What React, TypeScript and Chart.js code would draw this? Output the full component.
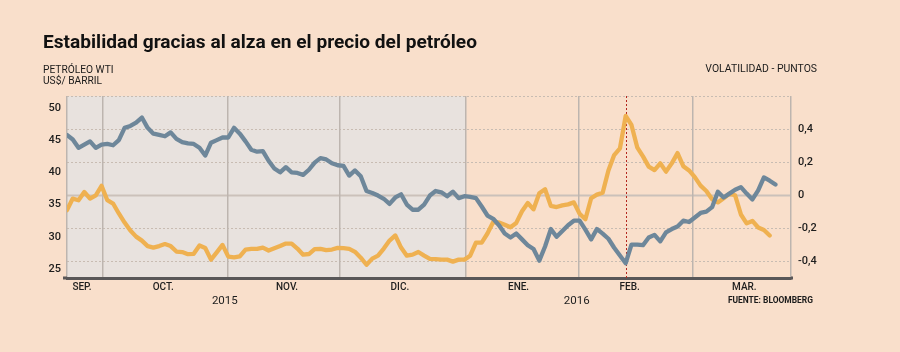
import React, { useEffect, useLayoutEffect, useRef } from 'react';
import { Chart, registerables } from 'chart.js';

Chart.register(...registerables);

// ---- DATA ----
// WTI oil price (US$/barrel), one value per trading day from late Sep 2015 to Mar 2016
const wtiPrice = [
  45.8, 45.1, 43.8, 44.3, 44.8, 43.8, 44.3, 44.4, 44.2, 45.0,
  46.9, 47.2, 47.7, 48.5, 46.9, 46.0, 45.8, 45.6, 46.2, 45.2,
  44.7, 44.5, 44.4, 43.8, 42.6, 44.6, 45.0, 45.4, 45.4, 46.9,
  46.0, 44.8, 43.5, 43.2, 43.3, 41.8, 40.6, 40.0, 40.8, 40.0,
  39.9, 39.6, 40.4, 41.5, 42.2, 42.0, 41.4, 41.1, 41.0, 39.5,
  40.3, 39.4, 37.1, 36.8, 36.4, 35.9, 35.1, 36.1, 36.6, 35.0,
  34.2, 34.2, 35.0, 36.4, 37.1, 36.9, 36.3, 37.0, 36.0, 36.3,
  36.2, 36.0, 34.7, 33.3, 32.8, 31.8, 30.5, 29.9, 30.5, 29.6,
  28.7, 28.1, 26.3, 28.5, 31.2, 30.0, 30.9, 31.8, 32.5, 32.5,
  31.1, 29.6, 31.2, 30.5, 29.7, 28.3, 27.1, 25.9, 28.8, 28.8,
  28.7, 29.9, 30.3, 29.3, 30.7, 31.2, 31.6, 32.5, 32.3, 33.0,
  33.7, 33.9, 34.6, 37.0, 36.1, 36.7, 37.3, 37.7, 36.7, 35.8,
  37.2, 39.2, 38.7, 38.1,
];

// Volatility (points), same trading days
const volatility = [
  -0.09, -0.02, -0.03, 0.02, -0.02, 0.0, 0.057, -0.03, -0.05, -0.11,
  -0.165, -0.213, -0.25, -0.274, -0.307, -0.316, -0.307, -0.295, -0.307, -0.34,
  -0.343, -0.356, -0.354, -0.304, -0.319, -0.389, -0.345, -0.30, -0.371, -0.375,
  -0.37, -0.328, -0.324, -0.324, -0.316, -0.334, -0.32, -0.307, -0.292, -0.292,
  -0.322, -0.359, -0.355, -0.325, -0.324, -0.331, -0.328, -0.318, -0.32, -0.324,
  -0.342, -0.377, -0.42, -0.383, -0.365, -0.322, -0.274, -0.243, -0.316, -0.365,
  -0.359, -0.343, -0.365, -0.385, -0.386, -0.389, -0.389, -0.401, -0.389, -0.389,
  -0.365, -0.286, -0.286, -0.231, -0.162, -0.164, -0.178, -0.193, -0.167, -0.097,
  -0.047, -0.085, 0.012, 0.036, -0.064, -0.071, -0.061, -0.055, -0.043, -0.112,
  -0.145, -0.018, 0.004, 0.015, 0.15, 0.243, 0.283, 0.48, 0.425, 0.29,
  0.235, 0.173, 0.152, 0.193, 0.143, 0.193, 0.255, 0.176, 0.15, 0.11,
  0.058, 0.026, -0.024, -0.043, -0.018, 0.009, 0.0, -0.116, -0.17, -0.155,
  -0.195, -0.21, -0.243,
];

// Month boundaries on the trading-day axis (grid lines)
const monthBoundaries = [0, 6.25, 27.95, 47.4, 69.3, 88.9, 108.7, 125.7];
const xMax = 125.7;
const monthLabels = ['SEP.', 'OCT.', 'NOV.', 'DIC.', 'ENE.', 'FEB.', 'MAR.'];
const monthLabelPos = [2.6, 16.7, 38.2, 57.8, 78.4, 97.7, 117.6];
const yearLabels = ['2015', '2016'];
const yearLabelPos = [27.4, 88.5];
const shadedRange = [0, 69.3]; // 2015
const markerIndex = 97; // 11 Feb 2016

const leftTicks = [25, 30, 35, 40, 45, 50];
const leftMin = 23.61;
const leftMax = 51.84;
const rightTicks = [-0.4, -0.2, 0, 0.2, 0.4, 0.6];
const rightMin = -0.5;
const rightMax = 0.6;

const BLUE = '#6e879a';
const ORANGE = '#efb151';
const BG = '#f9dfcb';
const SHADE = '#e8e2de';

type LabelProps = {
  text: string;
  x: number;
  baseline: number;
  size: number;
  width: number;
  weight?: number;
  align?: 'left' | 'right';
  color?: string;
};

function Label({ text, x, baseline, size, width, weight = 400, align = 'left', color = '#1a1a1a' }: LabelProps) {
  const ref = useRef<HTMLSpanElement>(null);
  useLayoutEffect(() => {
    const el = ref.current;
    if (!el) return;
    el.style.transform = 'none';
    const w = el.getBoundingClientRect().width;
    if (w > 0) el.style.transform = `scaleX(${width / w})`;
  }, [text, width]);
  const top = baseline - 0.8415 * size;
  const style: React.CSSProperties = {
    position: 'absolute',
    top,
    whiteSpace: 'nowrap',
    fontFamily: 'Roboto, sans-serif',
    fontSize: size,
    fontWeight: weight,
    lineHeight: `${size}px`,
    color,
    transformOrigin: align === 'left' ? 'left top' : 'right top',
  };
  if (align === 'left') style.left = x;
  else style.right = 900 - x;
  return (
    <span ref={ref} style={style}>
      {text}
    </span>
  );
}

export default function App() {
  const canvasRef = useRef<HTMLCanvasElement>(null);

  useEffect(() => {
    document.body.style.margin = '0';
    const canvas = canvasRef.current;
    if (!canvas) return;

    const decor = {
      id: 'decor',
      beforeDraw(chart: any) {
        const { ctx, chartArea: a, scales } = chart;
        const x = scales.x;
        const y1 = scales.y1;
        ctx.save();
        const sx0 = x.getPixelForValue(shadedRange[0]);
        const sx1 = x.getPixelForValue(shadedRange[1]);
        ctx.fillStyle = SHADE;
        ctx.fillRect(sx0, a.top, sx1 - sx0, a.bottom - a.top);
        rightTicks.forEach((v) => {
          const py = Math.round(y1.getPixelForValue(v)) + 0.5;
          ctx.beginPath();
          if (v === 0) {
            ctx.setLineDash([]);
            ctx.lineWidth = 2;
            ctx.strokeStyle = '#cbc1ba';
          } else {
            ctx.setLineDash([2, 2]);
            ctx.lineWidth = 1;
            ctx.strokeStyle = '#c8bcb2';
          }
          ctx.moveTo(a.left, py);
          ctx.lineTo(a.right, py);
          ctx.stroke();
        });
        ctx.restore();
      },
      beforeDatasetsDraw(chart: any) {
        const { ctx, chartArea: a, scales } = chart;
        const px = Math.round(scales.x.getPixelForValue(markerIndex)) + 0.5;
        ctx.save();
        ctx.setLineDash([2, 2]);
        ctx.lineWidth = 1;
        ctx.strokeStyle = '#b3261e';
        ctx.beginPath();
        ctx.moveTo(px, a.top);
        ctx.lineTo(px, a.bottom);
        ctx.stroke();
        ctx.restore();
      },
      afterDraw(chart: any) {
        const { ctx, chartArea: a, scales } = chart;
        const x = scales.x;
        ctx.save();
        // extend the baseline slightly beyond the plot, as in the original
        ctx.fillStyle = '#595758';
        ctx.fillRect(a.left - 4, a.bottom - 1.5, 4, 3);
        ctx.fillRect(a.right, a.bottom - 1.5, 2, 3);
        ctx.fillStyle = '#1e1e1e';
        ctx.textAlign = 'center';
        ctx.textBaseline = 'alphabetic';
        ctx.font = '500 10px Roboto, sans-serif';
        monthLabels.forEach((m, i) => {
          ctx.fillText(m, x.getPixelForValue(monthLabelPos[i]), 290);
        });
        ctx.font = '400 11.5px Roboto, sans-serif';
        yearLabels.forEach((yl, i) => {
          ctx.fillText(yl, x.getPixelForValue(yearLabelPos[i]), 304);
        });
        ctx.restore();
      },
    };

    const fmtRight = (v: number) => {
      if (v > 0.55) return '';
      const r = Math.round(v * 10) / 10;
      return String(r).replace('.', ',');
    };

    const chart = new Chart(canvas, {
      type: 'line',
      data: {
        datasets: [
          {
            label: 'Petróleo WTI',
            data: wtiPrice.map((v, i) => ({ x: i, y: v })),
            yAxisID: 'y',
            borderColor: BLUE,
            borderWidth: 4.3,
            pointRadius: 0,
            tension: 0,
            borderJoinStyle: 'round',
            borderCapStyle: 'round',
            fill: false,
          },
          {
            label: 'Volatilidad',
            data: volatility.map((v, i) => ({ x: i, y: v })),
            yAxisID: 'y1',
            borderColor: ORANGE,
            borderWidth: 4.3,
            pointRadius: 0,
            tension: 0,
            borderJoinStyle: 'round',
            borderCapStyle: 'round',
            fill: false,
          },
        ],
      },
      options: {
        responsive: false,
        animation: false,
        devicePixelRatio: 1,
        layout: { padding: { top: 96, left: 0, right: 0, bottom: 0 } },
        plugins: {
          legend: { display: false },
          tooltip: { enabled: false },
          title: { display: false },
        },
        scales: {
          x: {
            type: 'linear',
            min: 0,
            max: xMax,
            afterBuildTicks: (s: any) => {
              s.ticks = monthBoundaries.map((v) => ({ value: v }));
            },
            afterFit: (s: any) => {
              s.height = 74;
            },
            ticks: { display: false },
            grid: { color: '#bdb5af', lineWidth: 1.5, drawTicks: false },
            border: { color: '#595758', width: 3 },
          },
          y: {
            position: 'left',
            min: leftMin,
            max: leftMax,
            afterBuildTicks: (s: any) => {
              s.ticks = leftTicks.map((v) => ({ value: v }));
            },
            afterFit: (s: any) => {
              s.width = 67;
            },
            grid: { display: false, drawTicks: false },
            border: { display: false },
            ticks: { padding: 6, color: '#1e1e1e', font: { family: 'Roboto, sans-serif', size: 11, weight: '500' } },
          },
          y1: {
            position: 'right',
            min: rightMin,
            max: rightMax,
            afterBuildTicks: (s: any) => {
              s.ticks = rightTicks.map((v) => ({ value: v }));
            },
            afterFit: (s: any) => {
              s.width = 109;
            },
            grid: { display: false, drawTicks: false },
            border: { display: false },
            ticks: {
              padding: 7,
              color: '#1e1e1e',
              font: { family: 'Roboto, sans-serif', size: 11, weight: '500' },
              callback: (v: any) => fmtRight(Number(v)),
            },
          },
        },
      },
      plugins: [decor],
    } as any);

    return () => chart.destroy();
  }, []);

  return (
    <div style={{ position: 'relative', width: 900, height: 352, background: BG, overflow: 'hidden' }}>
      <canvas ref={canvasRef} width={900} height={352} style={{ position: 'absolute', left: 0, top: 0, width: 900, height: 352 }} />
      <Label text="Estabilidad gracias al alza en el precio del petróleo" x={43} baseline={48.3} size={19} weight={700} width={434} color="#111" />
      <Label text="PETRÓLEO WTI" x={42.7} baseline={73.3} size={10} width={70.6} />
      <Label text="US$/ BARRIL" x={42.7} baseline={84.3} size={10} width={59} />
      <Label text="VOLATILIDAD - PUNTOS" x={816.7} baseline={72.3} size={10} width={111.7} align="right" />
      <Label text="FUENTE: BLOOMBERG" x={812.7} baseline={304} size={9} weight={700} width={85} align="right" />
    </div>
  );
}
